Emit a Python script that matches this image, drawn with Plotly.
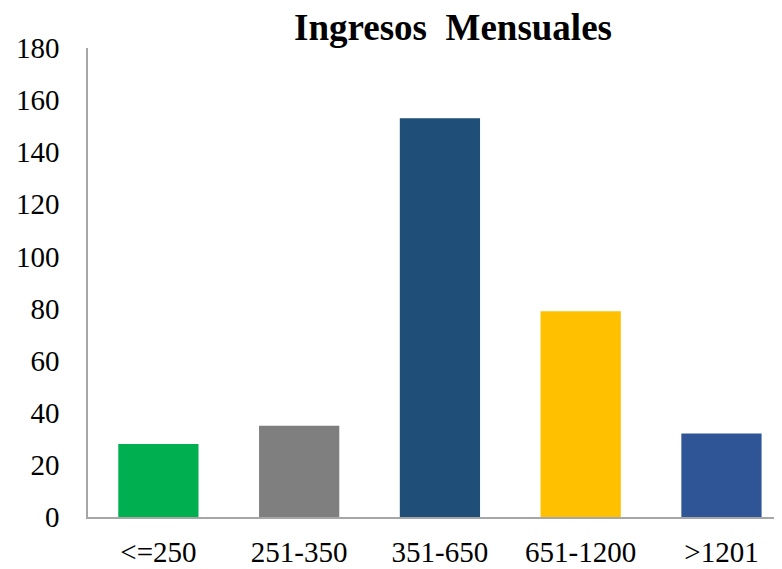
import plotly.graph_objects as go

categories = ["<=250", "251-350", "351-650", "651-1200", ">1201"]
values = [28, 35, 153, 79, 32]
colors = ["#00B050", "#7F7F7F", "#1F4E79", "#FFC000", "#2F5597"]
y_ticks = [0, 20, 40, 60, 80, 100, 120, 140, 160, 180]

W, H = 774, 561

fig = go.Figure(go.Bar(x=categories, y=values, marker=dict(color=colors, line=dict(width=0)), width=0.57))

fig.update_layout(
    width=W, height=H,
    margin=dict(l=80, r=0, t=40, b=52, autoexpand=False),
    plot_bgcolor="white", paper_bgcolor="white",
    font=dict(family="Liberation Serif, Times New Roman, serif", color="black", size=29),
    showlegend=False,
    title=dict(text="<b>Ingresos  Mensuales</b>", x=445/W, xanchor="center", y=1 - 19/H, yanchor="middle",
               xref="container", yref="container", automargin=False,
               font=dict(size=37, family="Liberation Serif, Times New Roman, serif", color="black")),
)
fig.update_xaxes(
    type="category", range=[-0.5, 4.43], automargin=False,
    showline=True, linecolor="#A6A6A6", linewidth=1.5,
    showgrid=False, ticks="", ticklabelstandoff=8,
    tickfont=dict(size=29),
)
fig.update_yaxes(
    range=[0, 180], tickvals=y_ticks, automargin=False,
    showline=True, linecolor="#A6A6A6", linewidth=1.5,
    showgrid=False, zeroline=False, ticks="", ticklabelstandoff=21,
    tickfont=dict(size=29),
)

fig.write_html("out.html")
